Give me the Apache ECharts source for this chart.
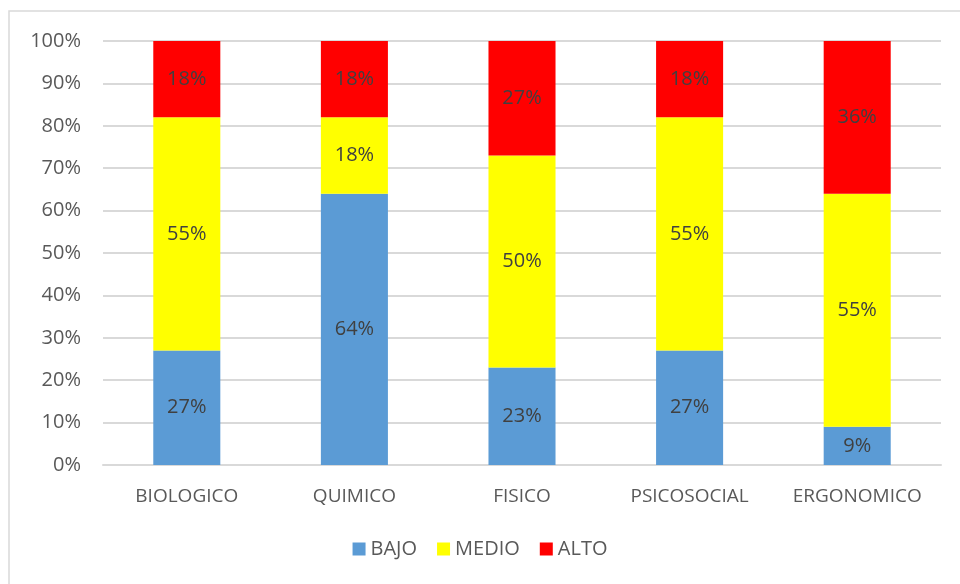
<!DOCTYPE html>
<html><head><meta charset="utf-8">
<script src="https://cdn.jsdelivr.net/npm/echarts@6/dist/echarts.min.js"></script>
<style>html,body{margin:0;padding:0;background:#fff}#c{width:960px;height:584px}</style>
</head><body><div id="c"></div>
<script>
const categories = ['BIOLOGICO','QUIMICO','FISICO','PSICOSOCIAL','ERGONOMICO'];
const bajo = [27, 64, 23, 27, 9];
const medio = [55, 18, 50, 55, 55];
const alto = [18, 18, 27, 18, 36];
const yTicks = [0,10,20,30,40,50,60,70,80,90,100];

const font = 'Open Sans, Noto Sans, sans-serif';
const chart = echarts.init(document.getElementById('c'));
const lbl = {show:true, position:'inside', formatter:'{c}%', color:'#404040', fontSize:20, fontFamily:font};
function s(name, data, color){
  return {name, type:'bar', stack:'t', data, barWidth:'40%', itemStyle:{color}, label:lbl, emphasis:{disabled:true}};
}
chart.setOption({
  animation:false,
  graphic:[{type:'rect', shape:{x:9,y:11,width:1000,height:1000}, style:{fill:'none', stroke:'#d9d9d9', lineWidth:1.5}, silent:true}],
  grid:{left:103, right:19, top:41, bottom:119},
  legend:{bottom:20, left:'center', itemWidth:13, itemHeight:13, itemGap:20, icon:'rect',
    textStyle:{color:'#595959', fontSize:20, fontFamily:font}},
  xAxis:{type:'category', data:categories, axisTick:{show:false},
    axisLine:{lineStyle:{color:'#d9d9d9', width:2}},
    axisLabel:{color:'#595959', fontSize:19, fontFamily:font, margin:22, interval:0, hideOverlap:false}},
  yAxis:{type:'value', min:0, max:100, interval:10,
    axisLabel:{color:'#595959', fontSize:20, fontFamily:font, formatter:v=>yTicks.includes(v)?v+'%':'', margin:22},
    splitLine:{lineStyle:{color:'#d9d9d9', width:2}}, axisLine:{show:false}, axisTick:{show:false}},
  series:[s('BAJO', bajo, '#5b9bd5'), s('MEDIO', medio, '#ffff00'), s('ALTO', alto, '#ff0000')]
});
</script></body></html>
